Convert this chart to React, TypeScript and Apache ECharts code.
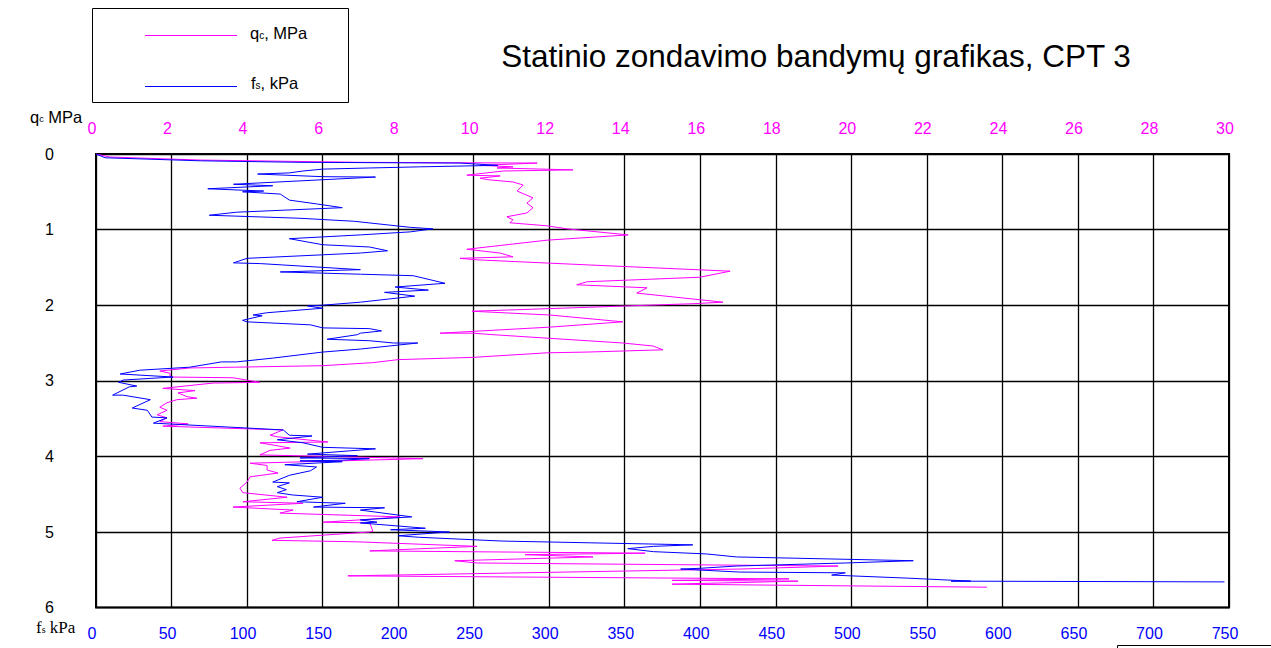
import React, { useEffect, useRef } from "react";
import * as echarts from "echarts";

// [depth m, fs kPa]
const fsProfile: number[][] = [
  [0, 0], [0.05, 6], [0.09, 69], [0.11, 135], [0.12, 241], [0.15, 266], [0.17, 214], [0.185, 181],
  [0.2, 150], [0.225, 137], [0.25, 128], [0.265, 107], [0.3, 150], [0.305, 185], [0.4, 91], [0.42, 117],
  [0.46, 74], [0.49, 111], [0.5, 97], [0.53, 122], [0.61, 128], [0.66, 146], [0.71, 163], [0.77, 93],
  [0.81, 75], [0.85, 135], [0.89, 171], [0.97, 208], [0.99, 223], [1.03, 208], [1.07, 175], [1.12, 128],
  [1.2, 150], [1.23, 181], [1.28, 193], [1.31, 175], [1.38, 100], [1.44, 91], [1.45, 109], [1.53, 175],
  [1.56, 122], [1.59, 175], [1.61, 210], [1.71, 231], [1.76, 198], [1.8, 220], [1.83, 191], [1.88, 211],
  [1.96, 175], [2.0, 150], [2.01, 140], [2.04, 150], [2.1, 113], [2.13, 104], [2.14, 110], [2.2, 97],
  [2.22, 100], [2.26, 142], [2.3, 150], [2.31, 181], [2.34, 189], [2.37, 175], [2.39, 173], [2.45, 153],
  [2.47, 181], [2.5, 197], [2.5, 213], [2.58, 175], [2.62, 150], [2.7, 117], [2.75, 93], [2.75, 83],
  [2.82, 62], [2.86, 29], [2.91, 16], [2.95, 51], [2.99, 18], [3.02, 15], [3.07, 27], [3.08, 22],
  [3.19, 11], [3.19, 18], [3.25, 36], [3.36, 24], [3.39, 34], [3.48, 37], [3.49, 47], [3.56, 38],
  [3.65, 124], [3.72, 128], [3.73, 143], [3.78, 120], [3.82, 137], [3.88, 150], [3.9, 185], [3.97, 140],
  [3.99, 173], [4.02, 135], [4.03, 181], [4.05, 163], [4.06, 135], [4.07, 163], [4.11, 125], [4.14, 146],
  [4.19, 142], [4.25, 128], [4.34, 117], [4.35, 128], [4.4, 120], [4.44, 126], [4.48, 120], [4.51, 130],
  [4.54, 150], [4.6, 133], [4.62, 165], [4.67, 144], [4.68, 191], [4.71, 175], [4.8, 209], [4.84, 175],
  [4.87, 186], [4.88, 175], [4.95, 218], [4.97, 195], [5.0, 234], [5.01, 226], [5.05, 200], [5.07, 214],
  [5.12, 269], [5.17, 395], [5.19, 369], [5.22, 352], [5.26, 369], [5.29, 404], [5.33, 424], [5.38, 541],
  [5.41, 496], [5.45, 424], [5.48, 400], [5.49, 387], [5.53, 426], [5.54, 496], [5.57, 487], [5.61, 537],
  [5.65, 579], [5.65, 566], [5.66, 747],
];

// [depth m, qc MPa]
const qcProfile: number[][] = [
  [0, 0], [0.04, 0.37], [0.08, 2.75], [0.11, 6.99], [0.12, 11.68], [0.15, 10.17], [0.17, 11.04],
  [0.185, 10.62], [0.21, 12.63], [0.225, 10.78], [0.28, 9.82], [0.29, 10.7], [0.32, 10.17], [0.34, 10.38],
  [0.37, 11.04], [0.41, 11.31], [0.49, 11.15], [0.58, 11.57], [0.65, 11.41], [0.71, 11.57], [0.78, 11.41],
  [0.83, 10.88], [0.87, 11.04], [0.91, 10.96], [0.95, 11.94], [0.99, 12.47], [1.07, 14.09], [1.14, 11.94],
  [1.26, 9.82], [1.31, 10.7], [1.36, 11.04], [1.38, 9.64], [1.4, 10.09], [1.47, 13.16], [1.55, 16.79],
  [1.63, 15.99], [1.69, 13.0], [1.73, 12.73], [1.77, 14.59], [1.84, 14.32], [1.96, 16.6], [1.98, 15.81],
  [2.08, 9.96], [2.13, 12.02], [2.22, 13.95], [2.29, 12.02], [2.37, 9.11], [2.37, 9.98], [2.39, 10.51],
  [2.5, 13.95], [2.54, 14.75], [2.59, 15.01], [2.62, 13.0], [2.63, 11.94], [2.69, 9.98], [2.72, 8.0],
  [2.76, 7.33], [2.8, 6.01], [2.83, 2.49], [2.87, 1.69], [2.9, 1.96], [2.95, 1.96], [2.96, 3.63],
  [3.02, 4.34], [3.03, 3.1], [3.1, 1.77], [3.13, 2.62], [3.16, 2.17], [3.21, 2.41], [3.23, 2.67],
  [3.25, 2.14], [3.29, 1.88], [3.35, 1.69], [3.39, 1.88], [3.45, 1.62], [3.49, 1.88], [3.54, 1.69],
  [3.57, 2.44], [3.6, 1.77], [3.65, 4.95], [3.72, 4.61], [3.74, 4.79], [3.81, 6.14], [3.82, 4.34],
  [3.85, 4.69], [3.89, 5.14], [3.92, 4.61], [3.98, 4.34], [4.03, 8.66], [4.09, 4.08], [4.12, 4.53],
  [4.18, 4.53], [4.22, 4.82], [4.27, 4.08], [4.34, 4.0], [4.42, 3.81], [4.48, 3.89], [4.54, 5.06],
  [4.6, 3.89], [4.62, 5.48], [4.67, 3.63], [4.71, 5.22], [4.75, 4.87], [4.8, 8.05], [4.84, 6.99],
  [4.87, 6.01], [4.88, 7.25], [4.99, 7.33], [5.0, 7.25], [5.08, 4.87], [5.11, 4.66], [5.13, 6.91],
  [5.19, 10.09], [5.25, 7.25], [5.28, 14.54], [5.3, 11.36], [5.33, 13.16], [5.38, 9.5], [5.41, 10.09],
  [5.45, 19.65], [5.49, 17.05], [5.58, 6.67], [5.62, 18.35], [5.64, 15.25], [5.65, 18.59], [5.69, 15.25],
  [5.73, 23.59],
];

const titleText = "Statinio zondavimo bandymų grafikas, CPT 3";
const fsMax = 750;
const fsStep = 50;
const qcMax = 30;
const qcStep = 2;
const depthMax = 6;

const MAGENTA = "#ff00ff";
const BLUE = "#0000ff";
const SANS = "Liberation Sans, Arial, sans-serif";
const SERIF = "Liberation Serif, Times New Roman, serif";

export default function App() {
  const ref = useRef<HTMLDivElement>(null);
  useEffect(() => {
    if (!ref.current) return;
    const chart = echarts.init(ref.current, null, { renderer: "svg" });
    chart.setOption({
      animation: false,
      backgroundColor: "#fff",
      grid: {
        left: 96,
        top: 154,
        width: 1133,
        height: 453.6,
        show: true,
        borderColor: "#000",
        borderWidth: 2,
        backgroundColor: "transparent",
      },
      xAxis: [
        {
          type: "value",
          position: "bottom",
          min: 0,
          max: fsMax,
          interval: fsStep,
          axisLine: { show: false },
          axisTick: { show: false },
          splitLine: { show: true, lineStyle: { color: "#000", width: 1.3 } },
          axisLabel: {
            color: BLUE,
            fontSize: 16,
            fontFamily: SANS,
            margin: 18,
            padding: [0, 8, 0, 0],
          },
        },
        {
          type: "value",
          position: "top",
          min: 0,
          max: qcMax,
          interval: qcStep,
          axisLine: { show: false },
          axisTick: { show: false },
          splitLine: { show: false },
          axisLabel: {
            color: MAGENTA,
            fontSize: 16,
            fontFamily: SANS,
            margin: 18,
            padding: [0, 8, 0, 0],
          },
        },
      ],
      yAxis: {
        type: "value",
        inverse: true,
        min: 0,
        max: depthMax,
        interval: 1,
        axisLine: { show: false },
        axisTick: { show: false },
        splitLine: { show: true, lineStyle: { color: "#000", width: 1.3 } },
        axisLabel: { color: "#000", fontSize: 16, fontFamily: SANS, margin: 42 },
      },
      series: [
        {
          type: "line",
          xAxisIndex: 1,
          data: qcProfile.map((p) => [p[1], p[0]]),
          symbol: "none",
          showSymbol: false,
          lineStyle: { color: MAGENTA, width: 1 },
          z: 3,
        },
        {
          type: "line",
          xAxisIndex: 0,
          data: fsProfile.map((p) => [p[1], p[0]]),
          symbol: "none",
          showSymbol: false,
          lineStyle: { color: BLUE, width: 1 },
          z: 4,
        },
      ],
      graphic: [
        {
          type: "rect",
          shape: { x: 92.5, y: 8.5, width: 256, height: 94 },
          style: { fill: "#fff", stroke: "#000", lineWidth: 1 },
        },
        {
          type: "line",
          shape: { x1: 145, y1: 35.5, x2: 237, y2: 35.5 },
          style: { stroke: MAGENTA, lineWidth: 1 },
        },
        {
          type: "line",
          shape: { x1: 145, y1: 86.5, x2: 237, y2: 86.5 },
          style: { stroke: BLUE, lineWidth: 1 },
        },
        {
          type: "text",
          x: 250,
          y: 33,
          style: {
            text: "{a|q}{s|c}{a|, MPa}",
            verticalAlign: "middle",
            rich: {
              a: { fontSize: 16.5, fontFamily: SANS, fill: "#000" },
              s: { fontSize: 10, fontFamily: SANS, fill: "#000", padding: [4, 0, 0, 0] },
            },
          },
        },
        {
          type: "text",
          x: 251,
          y: 83,
          style: {
            text: "{a|f}{s|s}{a|, kPa}",
            verticalAlign: "middle",
            rich: {
              a: { fontSize: 16.5, fontFamily: SANS, fill: "#000" },
              s: { fontSize: 10, fontFamily: SANS, fill: "#000", padding: [4, 0, 0, 0] },
            },
          },
        },
        {
          type: "text",
          x: 30,
          y: 117,
          style: {
            text: "{a|q}{s|c}{a| MPa}",
            verticalAlign: "middle",
            rich: {
              a: { fontSize: 16.5, fontFamily: SANS, fill: "#000" },
              s: { fontSize: 9, fontFamily: SANS, fill: "#000", padding: [3, 0, 0, 0] },
            },
          },
        },
        {
          type: "text",
          x: 36,
          y: 627,
          style: {
            text: "{a|f}{s|s}{a| kPa}",
            verticalAlign: "middle",
            rich: {
              a: { fontSize: 17, fontFamily: SERIF, fill: "#000" },
              s: { fontSize: 10, fontFamily: SERIF, fill: "#000", padding: [4, 0, 0, 0] },
            },
          },
        },
        {
          type: "text",
          x: 816,
          y: 56,
          style: {
            text: titleText,
            fontSize: 31.5,
            fontFamily: SANS,
            fill: "#000",
            align: "center",
            verticalAlign: "middle",
          },
        },
        {
          type: "polyline",
          shape: { points: [[1117.5, 649], [1117.5, 645.5], [1271, 645.5]] },
          style: { stroke: "#000", fill: "none", lineWidth: 1 },
        },
      ],
    });
    return () => chart.dispose();
  }, []);
  return (
    <div
      ref={ref}
      style={{ position: "fixed", left: 0, top: 0, width: 1271, height: 648, background: "#fff" }}
    />
  );
}
